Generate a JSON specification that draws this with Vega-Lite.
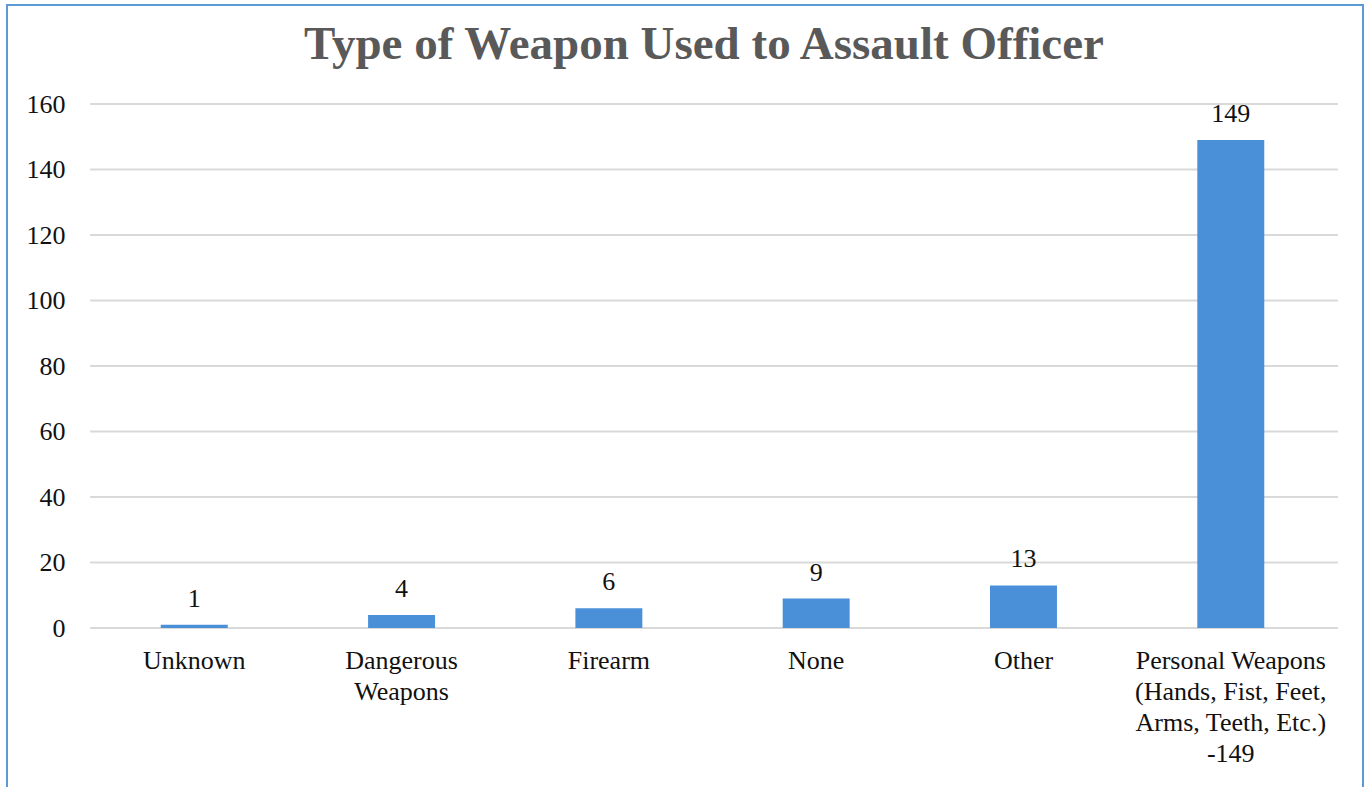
{
  "$schema": "https://vega.github.io/schema/vega-lite/v6.json",
  "width": 1356,
  "height": 790,
  "autosize": {"type": "none"},
  "padding": {"top": 5, "left": 7, "right": 4, "bottom": 0},
  "background": "white",
  "config": {
    "view": {"stroke": "#5b9bd5", "strokeWidth": 2},
    "font": "Liberation Serif"
  },
  "title": {
    "text": "Type of Weapon Used to Assault Officer",
    "font": "Liberation Serif",
    "fontSize": 47,
    "fontWeight": "bold",
    "color": "#595959",
    "anchor": "middle",
    "frame": "group",
    "dx": 19,
    "offset": -101,
    "baseline": "alphabetic"
  },
  "datasets": {
    "bars": [
      {"weapon": "Unknown", "count": 1},
      {"weapon": "Dangerous|Weapons", "count": 4},
      {"weapon": "Firearm", "count": 6},
      {"weapon": "None", "count": 9},
      {"weapon": "Other", "count": 13},
      {"weapon": "Personal Weapons|(Hands, Fist, Feet,|Arms, Teeth, Etc.)|-149", "count": 149}
    ],
    "grid": [
      {"tick": 0}, {"tick": 20}, {"tick": 40}, {"tick": 60}, {"tick": 80},
      {"tick": 100}, {"tick": 120}, {"tick": 140}, {"tick": 160}
    ]
  },
  "resolve": {"scale": {"x": "shared", "y": "shared"}},
  "layer": [
    {
      "data": {"name": "grid"},
      "mark": {"type": "rule", "color": "#d9d9d9", "strokeWidth": 2},
      "encoding": {
        "y": {"field": "tick", "type": "quantitative"},
        "x": {"datum": "Unknown", "type": "nominal", "bandPosition": -1.055},
        "x2": {"datum": "Personal Weapons|(Hands, Fist, Feet,|Arms, Teeth, Etc.)|-149", "bandPosition": 2.1}
      }
    },
    {
      "data": {"name": "bars"},
      "mark": {"type": "bar", "color": "#4a90d9"},
      "encoding": {
        "x": {
          "field": "weapon",
          "type": "nominal",
          "sort": null,
          "scale": {
            "domain": ["Unknown", "Dangerous|Weapons", "Firearm", "None", "Other", "Personal Weapons|(Hands, Fist, Feet,|Arms, Teeth, Etc.)|-149"],
            "paddingInner": 0.677, "paddingOuter": 0.609, "align": 0.609
          },
          "axis": {
            "title": null,
            "orient": "bottom",
            "offset": -167,
            "domain": false,
            "ticks": false,
            "labelAngle": 0,
            "labelAlign": "center",
            "labelExpr": "split(datum.label, '|')",
            "labelFont": "Liberation Serif",
            "labelFontSize": 26,
            "labelColor": "#111111",
            "labelPadding": 19,
            "labelLineHeight": 31,
            "labelBaseline": "top",
            "labelLimit": 0
          }
        },
        "y": {
          "field": "count",
          "type": "quantitative",
          "scale": {"domain": [-50.99, 190.23], "nice": false, "zero": false},
          "axis": {
            "title": null,
            "orient": "left",
            "offset": -83,
            "values": [0, 20, 40, 60, 80, 100, 120, 140, 160],
            "grid": false,
            "domain": false,
            "ticks": false,
            "labelFont": "Liberation Serif",
            "labelFontSize": 26,
            "labelColor": "#111111",
            "labelPadding": 25
          }
        },
        "y2": {"datum": 0}
      }
    },
    {
      "data": {"name": "bars"},
      "mark": {"type": "text", "font": "Liberation Serif", "fontSize": 26, "color": "#111111", "baseline": "alphabetic", "dy": -18},
      "encoding": {
        "x": {"field": "weapon", "type": "nominal", "sort": null},
        "y": {"field": "count", "type": "quantitative"},
        "text": {"field": "count", "type": "quantitative"}
      }
    }
  ]
}
